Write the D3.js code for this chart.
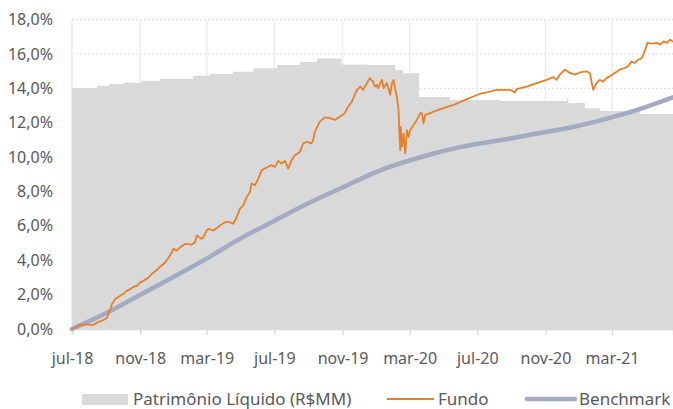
<!DOCTYPE html>
<html>
<head>
<meta charset="utf-8">
<script src="https://cdn.jsdelivr.net/npm/d3@7"></script>
<style>
  html, body { margin: 0; padding: 0; background: #fff; }
  svg { display: block; font-family: "Noto Sans", "Open Sans", sans-serif; }
</style>
</head>
<body>
<div id="chart"></div>
<script>
// axis ticks (mmm-yy, pt-BR)
const tickDates = ['2018-07-01', '2018-11-01', '2019-03-01', '2019-07-01', '2019-11-01',
    '2020-03-01', '2020-07-01', '2020-11-01', '2021-03-01'];
const monthNames = ['jan', 'fev', 'mar', 'abr', 'mai', 'jun', 'jul', 'ago', 'set', 'out', 'nov', 'dez'];
const yTicks = [0, 2, 4, 6, 8, 10, 12, 14, 16, 18];

// Patrimônio Líquido (R$MM) - secondary axis, hidden
const plSeries = [
    ['2018-07-01', 280.3], ['2018-08-15', 283.0], ['2018-09-07', 285.0], ['2018-10-01', 286.5],
    ['2018-11-04', 288.8], ['2018-12-07', 290.8], ['2019-02-04', 294.6], ['2019-03-07', 296.6],
    ['2019-04-17', 299.2], ['2019-05-24', 303.2], ['2019-07-06', 307.0], ['2019-08-16', 310.5],
    ['2019-09-16', 314.6], ['2019-10-30', 307.6], ['2019-12-15', 307.0], ['2020-02-04', 301.2],
    ['2020-02-18', 297.4], ['2020-03-18', 269.8], ['2020-05-13', 266.3], ['2020-08-11', 265.2],
    ['2020-12-10', 268.7], ['2020-12-12', 262.8], ['2021-01-11', 256.7], ['2021-02-07', 253.5],
    ['2021-04-21', 250.0], ['2021-06-19', 250.0]
];

// Fundo (%)
const fundoSeries = [
    ['2018-07-01', 0.00], ['2018-07-15', 0.23], ['2018-07-28', 0.27], ['2018-08-08', 0.23],
    ['2018-08-15', 0.37], ['2018-08-26', 0.51], ['2018-09-02', 0.66], ['2018-09-06', 0.95],
    ['2018-09-11', 1.44], ['2018-09-17', 1.74], ['2018-10-01', 2.03], ['2018-10-08', 2.22],
    ['2018-10-14', 2.32], ['2018-10-20', 2.45], ['2018-10-26', 2.51], ['2018-11-01', 2.71],
    ['2018-11-07', 2.81], ['2018-11-16', 3.00], ['2018-11-22', 3.20], ['2018-12-01', 3.43],
    ['2018-12-07', 3.62], ['2018-12-16', 3.87], ['2018-12-25', 4.27], ['2018-12-31', 4.66],
    ['2019-01-06', 4.56], ['2019-01-12', 4.75], ['2019-01-21', 4.95], ['2019-02-02', 4.91],
    ['2019-02-08', 5.04], ['2019-02-11', 5.44], ['2019-02-20', 5.24], ['2019-02-23', 5.34],
    ['2019-03-01', 5.73], ['2019-03-04', 5.83], ['2019-03-13', 5.73], ['2019-03-25', 6.02],
    ['2019-04-03', 6.21], ['2019-04-12', 6.21], ['2019-04-18', 6.12], ['2019-04-24', 6.50],
    ['2019-04-30', 7.00], ['2019-05-06', 7.19], ['2019-05-12', 7.67], ['2019-05-18', 7.97],
    ['2019-05-21', 8.46], ['2019-05-27', 8.36], ['2019-06-02', 8.75], ['2019-06-08', 9.23],
    ['2019-06-17', 9.39], ['2019-06-26', 9.53], ['2019-07-02', 9.43], ['2019-07-08', 9.78],
    ['2019-07-14', 9.63], ['2019-07-20', 9.78], ['2019-07-26', 9.33], ['2019-08-01', 9.82],
    ['2019-08-07', 10.11], ['2019-08-16', 10.30], ['2019-08-22', 10.79], ['2019-08-28', 10.89],
    ['2019-09-06', 10.79], ['2019-09-09', 10.99], ['2019-09-12', 11.47], ['2019-09-21', 12.06],
    ['2019-09-30', 12.31], ['2019-10-09', 12.26], ['2019-10-18', 12.16], ['2019-10-27', 12.35],
    ['2019-11-05', 12.55], ['2019-11-11', 12.93], ['2019-11-18', 13.23], ['2019-11-23', 13.62],
    ['2019-11-27', 13.91], ['2019-12-03', 14.10], ['2019-12-08', 13.91], ['2019-12-15', 14.30],
    ['2019-12-20', 14.59], ['2019-12-26', 14.39], ['2019-12-29', 14.10], ['2020-01-02', 14.20],
    ['2020-01-04', 14.01], ['2020-01-11', 14.49], ['2020-01-14', 14.01], ['2020-01-20', 14.30],
    ['2020-01-26', 13.62], ['2020-01-29', 14.30], ['2020-02-01', 14.49], ['2020-02-04', 13.91],
    ['2020-02-07', 13.52], ['2020-02-10', 12.74], ['2020-02-11', 11.76], ['2020-02-13', 10.40],
    ['2020-02-14', 11.76], ['2020-02-16', 10.60], ['2020-02-19', 11.38], ['2020-02-22', 10.21],
    ['2020-02-25', 11.57], ['2020-02-28', 11.18], ['2020-03-02', 11.57], ['2020-03-08', 11.86],
    ['2020-03-14', 12.16], ['2020-03-20', 12.55], ['2020-03-23', 12.55], ['2020-03-26', 11.96],
    ['2020-03-29', 12.45], ['2020-04-07', 12.55], ['2020-04-13', 12.64], ['2020-05-01', 12.84],
    ['2020-05-19', 13.03], ['2020-06-06', 13.28], ['2020-06-24', 13.52], ['2020-07-06', 13.68],
    ['2020-07-24', 13.81], ['2020-08-05', 13.91], ['2020-08-29', 13.91], ['2020-09-07', 13.75],
    ['2020-09-10', 13.95], ['2020-09-28', 14.10], ['2020-10-16', 14.30], ['2020-11-03', 14.49],
    ['2020-11-15', 14.65], ['2020-11-21', 14.49], ['2020-11-27', 14.79], ['2020-12-06', 15.08],
    ['2020-12-15', 14.89], ['2020-12-24', 14.79], ['2021-01-02', 14.92], ['2021-01-14', 14.98],
    ['2021-01-20', 14.89], ['2021-01-23', 14.39], ['2021-01-26', 13.91], ['2021-02-01', 14.30],
    ['2021-02-07', 14.49], ['2021-02-13', 14.39], ['2021-02-19', 14.59], ['2021-02-25', 14.69],
    ['2021-03-06', 14.89], ['2021-03-15', 15.08], ['2021-03-24', 15.18], ['2021-03-30', 15.27],
    ['2021-04-05', 15.56], ['2021-04-11', 15.47], ['2021-04-17', 15.66], ['2021-04-24', 15.76],
    ['2021-04-30', 16.25], ['2021-05-04', 16.64], ['2021-05-12', 16.60], ['2021-05-21', 16.64],
    ['2021-05-27', 16.54], ['2021-06-02', 16.73], ['2021-06-08', 16.64], ['2021-06-14', 16.83],
    ['2021-06-19', 16.70]
];

// Benchmark (%)
const benchSeries = [
    ['2018-07-01', 0.00], ['2018-09-08', 1.05], ['2018-11-01', 1.99], ['2018-12-25', 2.92],
    ['2019-03-07', 4.21], ['2019-04-24', 5.14], ['2019-07-02', 6.31], ['2019-08-16', 7.07],
    ['2019-10-27', 8.16], ['2020-01-08', 9.23], ['2020-04-07', 10.15], ['2020-05-31', 10.58],
    ['2020-08-24', 11.05], ['2020-10-22', 11.40], ['2020-12-21', 11.75], ['2021-03-10', 12.39],
    ['2021-04-21', 12.80], ['2021-06-19', 13.47]
];

const width = 673, height = 409;
const plot = {left: 72, right: 673, top: 19.5, bottom: 329};

const parse = d3.timeParse('%Y-%m-%d');
const toPoints = s => s.map(([d, v]) => ({date: parse(d), value: v}));
const pl = toPoints(plSeries);
const fundo = toPoints(fundoSeries);
const bench = toPoints(benchSeries);

const svg = d3.select('#chart')
    .append('svg')
    .attr('width', width)
    .attr('height', height);

const x = d3.scaleTime()
    .domain([parse('2018-07-01'), parse('2021-06-19')])
    .range([plot.left, plot.right]);
const y = d3.scaleLinear().domain([0, 18]).range([plot.bottom, plot.top]);
// hidden secondary axis for the PL area
const y2 = d3.scaleLinear().domain([0, 360]).range([plot.bottom, plot.top]);

// gridlines (behind the series)
svg.append('g')
    .selectAll('line')
    .data(yTicks.slice(1))
    .join('line')
    .attr('x1', plot.left).attr('x2', plot.right)
    .attr('y1', d => y(d)).attr('y2', d => y(d))
    .attr('stroke', '#d9d9d9')
    .attr('stroke-width', 1.3)
    .attr('stroke-dasharray', '1.5,2.5');

svg.append('g')
    .selectAll('line')
    .data(tickDates.map(parse))
    .join('line')
    .attr('x1', d => x(d)).attr('x2', d => x(d))
    .attr('y1', plot.top).attr('y2', plot.bottom)
    .attr('stroke', '#ececec')
    .attr('stroke-width', 1.5);

// PL area
const area = d3.area()
    .x(d => x(d.date))
    .y0(y2(0))
    .y1(d => y2(d.value))
    .curve(d3.curveStepAfter);

svg.append('path')
    .datum(pl)
    .attr('d', area)
    .attr('fill', '#d9d9d9');

// x axis
const fmtTick = d => `${monthNames[d.getMonth()]}-${String(d.getFullYear()).slice(2)}`;
const xAxis = svg.append('g')
    .attr('transform', `translate(0,${plot.bottom})`)
    .call(d3.axisBottom(x)
        .tickValues(tickDates.map(parse))
        .tickFormat(fmtTick)
        .tickSize(6)
        .tickPadding(18));
xAxis.select('.domain').attr('stroke', '#d9d9d9').attr('stroke-width', 1.3);
xAxis.selectAll('.tick line').attr('stroke', '#d9d9d9').attr('stroke-width', 1.3);
xAxis.selectAll('.tick text')
    .attr('fill', '#595959')
    .style('font-size', '16px')
    .style('font-family', '"Noto Sans", sans-serif');

// y axis
const yAxis = svg.append('g')
    .attr('transform', `translate(${plot.left},0)`)
    .call(d3.axisLeft(y)
        .tickValues(yTicks)
        .tickFormat(d => d.toFixed(1).replace('.', ',') + '%')
        .tickSize(0)
        .tickPadding(19));
yAxis.select('.domain').remove();
yAxis.selectAll('.tick text')
    .attr('fill', '#595959')
    .style('font-size', '16px')
    .style('font-family', '"Noto Sans", sans-serif');

// series lines
const line = d3.line()
    .x(d => x(d.date))
    .y(d => y(d.value));

svg.append('path')
    .datum(bench)
    .attr('d', line.curve(d3.curveMonotoneX))
    .attr('fill', 'none')
    .attr('stroke', '#a3abc2')
    .attr('stroke-width', 4.5)
    .attr('stroke-linecap', 'round');

svg.append('path')
    .datum(fundo)
    .attr('d', line.curve(d3.curveLinear))
    .attr('fill', 'none')
    .attr('stroke', '#e67f2a')
    .attr('stroke-width', 1.8)
    .attr('stroke-linejoin', 'round');

// legend
const legend = svg.append('g')
    .style('font-size', '17px')
    .attr('fill', '#595959');

legend.append('rect')
    .attr('x', 82).attr('y', 394)
    .attr('width', 46).attr('height', 11)
    .attr('fill', '#d9d9d9');
legend.append('text').attr('x', 133).attr('y', 405).text('Patrimônio Líquido (R$MM)');

legend.append('line')
    .attr('x1', 387).attr('x2', 434).attr('y1', 399).attr('y2', 399)
    .attr('stroke', '#e67f2a').attr('stroke-width', 2);
legend.append('text').attr('x', 438).attr('y', 405).text('Fundo');

legend.append('line')
    .attr('x1', 527).attr('x2', 575).attr('y1', 399).attr('y2', 399)
    .attr('stroke', '#a3abc2').attr('stroke-width', 4.5)
    .attr('stroke-linecap', 'round');
legend.append('text').attr('x', 579).attr('y', 405).text('Benchmark');
</script>
</body>
</html>
